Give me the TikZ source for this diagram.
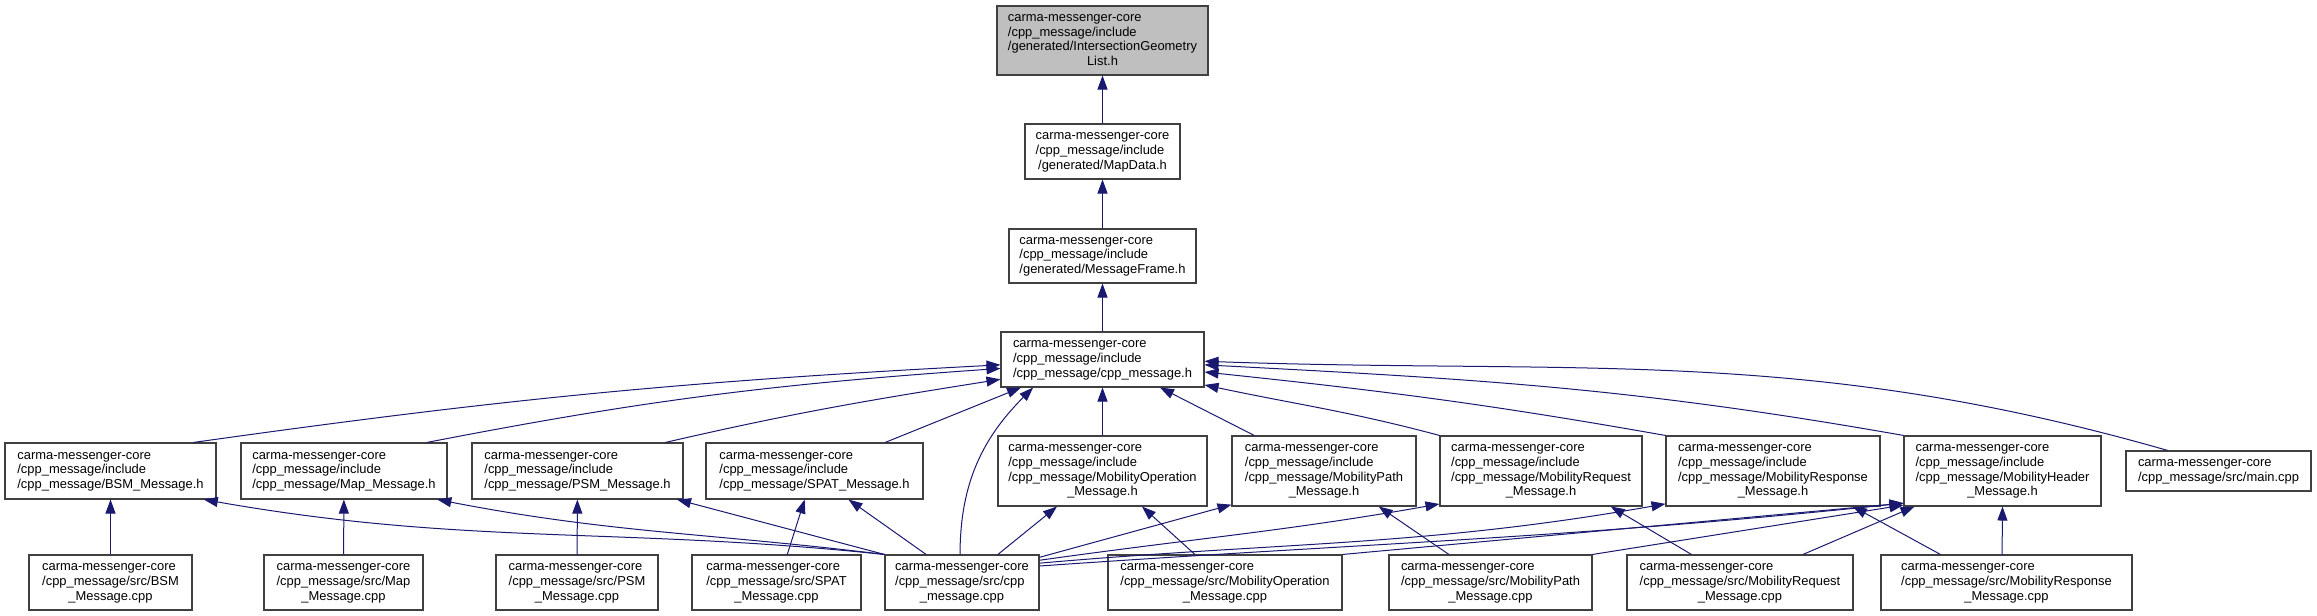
\documentclass[tikz,border=0pt]{standalone}
\usepackage{fontspec}
\setmainfont{Liberation Sans}
\usetikzlibrary{arrows.meta}
\definecolor{edgeblue}{HTML}{191970}
\definecolor{boxline}{HTML}{404040}
\definecolor{curgray}{HTML}{BFBFBF}
\newcommand{\flines}[1]{\begin{tabular}{@{}l@{}}#1\end{tabular}}
\newcommand{\lastc}[1]{\multicolumn{1}{@{}c@{}}{#1}}
\tikzset{
    filebox/.style 2 args={draw=boxline, line width=0.8pt, rectangle, inner sep=0pt,
        minimum width=#1*0.75pt, minimum height=#2*0.75pt,
        font=\fontsize{9.7}{11}\selectfont},
    dep/.style={draw=edgeblue, line width=0.75pt, -{Triangle[length=10.5pt,width=7.5pt]}}
}
\begin{document}
\begin{tikzpicture}[x=0.75pt, y=0.75pt]
    \useasboundingbox (0,0) rectangle (2317,616);

    \node[filebox={211}{69}, fill=curgray] (igl) at (1102.5,575.5)
        {\flines{carma-messenger-core\\/cpp\_message/include\\/generated/IntersectionGeometry\\\lastc{List.h}}};
    \node[filebox={155}{55}] (mapdata) at (1102.5,464.5)
        {\flines{carma-messenger-core\\/cpp\_message/include\\\lastc{/generated/MapData.h}}};
    \node[filebox={187}{54}] (msgframe) at (1102.5,360)
        {\flines{carma-messenger-core\\/cpp\_message/include\\\lastc{/generated/MessageFrame.h}}};
    \node[filebox={203}{55}] (cpph) at (1102.5,256.5)
        {\flines{carma-messenger-core\\/cpp\_message/include\\\lastc{/cpp\_message/cpp\_message.h}}};

    \node[filebox={211}{56}] (bsmh) at (110.5,145)
        {\flines{carma-messenger-core\\/cpp\_message/include\\\lastc{/cpp\_message/BSM\_Message.h}}};
    \node[filebox={206}{56}] (maph) at (344,145)
        {\flines{carma-messenger-core\\/cpp\_message/include\\\lastc{/cpp\_message/Map\_Message.h}}};
    \node[filebox={211}{56}] (psmh) at (577.5,145)
        {\flines{carma-messenger-core\\/cpp\_message/include\\\lastc{/cpp\_message/PSM\_Message.h}}};
    \node[filebox={217}{56}] (spath) at (814.5,145)
        {\flines{carma-messenger-core\\/cpp\_message/include\\\lastc{/cpp\_message/SPAT\_Message.h}}};
    \node[filebox={209}{70}] (mobopsh) at (1102.5,145)
        {\flines{carma-messenger-core\\/cpp\_message/include\\/cpp\_message/MobilityOperation\\\lastc{\_Message.h}}};
    \node[filebox={184}{70}] (mobpathh) at (1324,145)
        {\flines{carma-messenger-core\\/cpp\_message/include\\/cpp\_message/MobilityPath\\\lastc{\_Message.h}}};
    \node[filebox={202}{70}] (mobreqh) at (1541,145)
        {\flines{carma-messenger-core\\/cpp\_message/include\\/cpp\_message/MobilityRequest\\\lastc{\_Message.h}}};
    \node[filebox={214}{70}] (mobresph) at (1773,145)
        {\flines{carma-messenger-core\\/cpp\_message/include\\/cpp\_message/MobilityResponse\\\lastc{\_Message.h}}};
    \node[filebox={197}{70}] (mobhdrh) at (2002.5,145)
        {\flines{carma-messenger-core\\/cpp\_message/include\\/cpp\_message/MobilityHeader\\\lastc{\_Message.h}}};
    \node[filebox={185}{40}] (maincpp) at (2218.5,145)
        {\flines{carma-messenger-core\\\lastc{/cpp\_message/src/main.cpp}}};

    \node[filebox={163}{55}] (bsmcpp) at (110.5,33.5)
        {\flines{carma-messenger-core\\/cpp\_message/src/BSM\\\lastc{\_Message.cpp}}};
    \node[filebox={159}{55}] (mapcpp) at (343.5,33.5)
        {\flines{carma-messenger-core\\/cpp\_message/src/Map\\\lastc{\_Message.cpp}}};
    \node[filebox={162}{55}] (psmcpp) at (577,33.5)
        {\flines{carma-messenger-core\\/cpp\_message/src/PSM\\\lastc{\_Message.cpp}}};
    \node[filebox={169}{55}] (spatcpp) at (776.5,33.5)
        {\flines{carma-messenger-core\\/cpp\_message/src/SPAT\\\lastc{\_Message.cpp}}};
    \node[filebox={154}{55}] (cppcpp) at (962,33.5)
        {\flines{carma-messenger-core\\/cpp\_message/src/cpp\\\lastc{\_message.cpp}}};
    \node[filebox={234}{55}] (mobopcpp) at (1225,33.5)
        {\flines{carma-messenger-core\\/cpp\_message/src/MobilityOperation\\\lastc{\_Message.cpp}}};
    \node[filebox={203}{55}] (mobpathcpp) at (1490.5,33.5)
        {\flines{carma-messenger-core\\/cpp\_message/src/MobilityPath\\\lastc{\_Message.cpp}}};
    \node[filebox={226}{55}] (mobreqcpp) at (1740,33.5)
        {\flines{carma-messenger-core\\/cpp\_message/src/MobilityRequest\\\lastc{\_Message.cpp}}};
    \node[filebox={251}{55}] (mobrespcpp) at (2006.5,33.5)
        {\flines{carma-messenger-core\\/cpp\_message/src/MobilityResponse\\\lastc{\_Message.cpp}}};

    \foreach \s/\t in {mapdata/igl, msgframe/mapdata, cpph/msgframe, mobopsh/cpph,
        bsmcpp/bsmh, mapcpp/maph, psmcpp/psmh}
        {\draw[dep] (\s) -- (\t);}
    \foreach \s/\a/\t/\b in {spath/22/cpph/199, mobpathh/153/cpph/334,
        spatcpp/69/spath/251, cppcpp/142/spath/320, cppcpp/north west/psmh/344,
        cppcpp/38/mobopsh/218, mobopcpp/137/mobopsh/318, cppcpp/18/mobpathh/200,
        mobpathcpp/146/mobpathh/327, mobreqcpp/150/mobreqh/333, mobreqcpp/24/mobhdrh/202,
        mobrespcpp/157/mobresph/336, mobopcpp/north east/mobhdrh/198,
        mobpathcpp/north east/mobhdrh/199, mobrespcpp/99/mobhdrh/270}
        {\draw[dep] (\s.\a) -- (\t.\b);}
    \foreach \s/\a/\t/\b/\o/\i in {bsmh/19/cpph/183/8/183, maph/19/cpph/185/11/184,
        psmh/18/cpph/191/13/189, cppcpp/94/cpph/202/90/225,
        mobreqh/north west/cpph/346/165/348, mobresph/north west/cpph/353/170/354,
        mobhdrh/north west/cpph/357/170/357, maincpp/158/cpph/359/164/358,
        cppcpp/north west/bsmh/343/174/350, cppcpp/north west/maph/343/173/349,
        cppcpp/16/mobreqh/198/8/190, cppcpp/14/mobresph/197/5/190,
        cppcpp/12/mobhdrh/198/4/186}
        {\draw[dep] (\s.\a) to[out=\o, in=\i] (\t.\b);}
\end{tikzpicture}
\end{document}
